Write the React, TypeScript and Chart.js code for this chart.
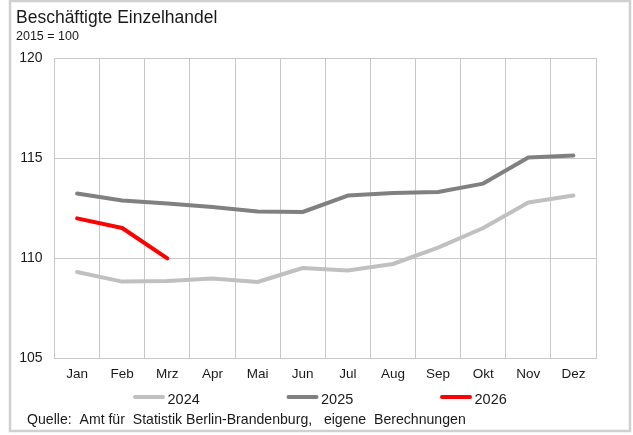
import React, { useEffect, useRef } from "react";
import { Chart, registerables } from "chart.js";

Chart.register(...registerables);

const months = ["Jan", "Feb", "Mrz", "Apr", "Mai", "Jun", "Jul", "Aug", "Sep", "Okt", "Nov", "Dez"];
const values2024 = [109.3, 108.82, 108.85, 108.98, 108.8, 109.5, 109.38, 109.7, 110.52, 111.5, 112.78, 113.12];
const values2025 = [113.22, 112.88, 112.73, 112.55, 112.33, 112.3, 113.12, 113.25, 113.3, 113.72, 115.03, 115.12];
const values2026 = [111.98, 111.5, 109.98];
const yTicks = [105, 110, 115, 120];

const title = "Beschäftigte Einzelhandel";
const subtitle = "2015 = 100";
const source = "Quelle:  Amt für  Statistik Berlin-Brandenburg,   eigene  Berechnungen";

const FONT = "'Liberation Sans', Arial, sans-serif";

const decorPlugin = {
  id: "decor",
  afterDraw(chart: any) {
    const ctx = chart.ctx as CanvasRenderingContext2D;
    ctx.save();
    // frame
    ctx.strokeStyle = "#d0d0d0";
    ctx.lineWidth = 2.5;
    ctx.strokeRect(10, 1, 620, 430);
    // title
    ctx.fillStyle = "#1a1a1a";
    ctx.textBaseline = "alphabetic";
    ctx.textAlign = "left";
    ctx.font = `17.5px ${FONT}`;
    ctx.fillText(title, 16, 22.7);
    ctx.font = `12.5px ${FONT}`;
    ctx.fillText(subtitle, 16, 40);
    // legend
    const ds = chart.data.datasets;
    const startX = 133;
    const step = 153.5;
    ctx.font = `14.5px ${FONT}`;
    ds.forEach((d: any, i: number) => {
      const x = startX + i * step;
      ctx.strokeStyle = d.borderColor;
      ctx.lineWidth = 4;
      ctx.lineCap = "round";
      ctx.beginPath();
      ctx.moveTo(x + 2, 397);
      ctx.lineTo(x + 30, 397);
      ctx.stroke();
      ctx.fillStyle = "#1a1a1a";
      ctx.fillText(d.label, x + 34.5, 404);
    });
    // source
    ctx.font = `14.1px ${FONT}`;
    ctx.fillText(source, 27, 424);
    ctx.restore();
  },
};

export default function App() {
  const ref = useRef<HTMLCanvasElement | null>(null);
  useEffect(() => {
    if (!ref.current) return;
    const chart = new Chart(ref.current, {
      type: "line",
      data: {
        labels: months,
        datasets: [
          { label: "2024", data: values2024, borderColor: "#c0c0c0", backgroundColor: "#c0c0c0" },
          { label: "2025", data: values2025, borderColor: "#808080", backgroundColor: "#808080" },
          { label: "2026", data: values2026, borderColor: "#ff0000", backgroundColor: "#ff0000" },
        ],
      },
      options: {
        responsive: false,
        animation: false,
        devicePixelRatio: 1,
        elements: {
          line: { borderWidth: 4, tension: 0, borderCapStyle: "round", borderJoinStyle: "round" },
          point: { radius: 0, hoverRadius: 0 },
        },
        layout: { padding: { left: 0, right: 37, top: 58, bottom: 53 } },
        plugins: { legend: { display: false }, title: { display: false }, tooltip: { enabled: false } },
        scales: {
          x: {
            offset: true,
            grid: { offset: true, color: "#c8c8c8", lineWidth: 1, drawTicks: false },
            border: { color: "#c8c8c8" },
            ticks: { color: "#1a1a1a", font: { family: FONT, size: 13.5 }, padding: 8, maxRotation: 0, autoSkip: false },
            afterFit: (s: any) => { s.height = 24; },
          },
          y: {
            min: yTicks[0],
            max: yTicks[yTicks.length - 1],
            afterBuildTicks: (s: any) => { s.ticks = yTicks.map((v) => ({ value: v })); },
            grid: { color: "#c8c8c8", lineWidth: 1, drawTicks: false },
            border: { color: "#c8c8c8" },
            ticks: { color: "#1a1a1a", font: { family: FONT, size: 14 }, padding: 12 },
            afterFit: (s: any) => { s.width = 54.5; },
          },
        },
      },
      plugins: [decorPlugin],
    });
    return () => chart.destroy();
  }, []);
  return (
    <div style={{ position: "absolute", left: 0, top: 0, width: 633, height: 435, background: "#fff" }}>
      <canvas ref={ref} width={633} height={435} style={{ display: "block" }} />
    </div>
  );
}
